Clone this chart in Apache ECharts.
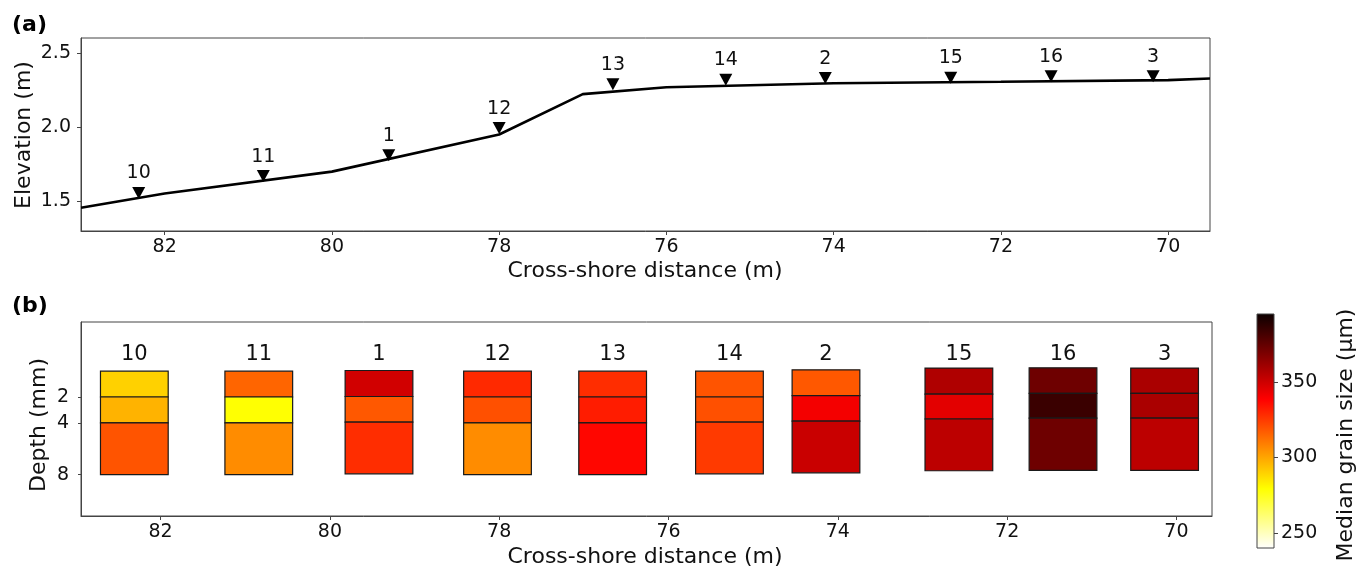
<!DOCTYPE html>
<html><head><meta charset="utf-8">
<script src="https://cdn.jsdelivr.net/npm/echarts@6/dist/echarts.min.js"></script>
<style>html,body{margin:0;padding:0;background:#fff}#c{width:1362px;height:569px}</style>
</head><body><div id="c"></div>
<script>
// ---------- Panel (a): beach elevation profile ----------
const profileX = [83, 82, 80, 78, 77, 76, 74, 72, 70, 69.5];
const profileZ = [1.457, 1.553, 1.70, 1.95, 2.222, 2.268, 2.295, 2.305, 2.316, 2.327];
const sampleNames = ['10', '11', '1', '12', '13', '14', '2', '15', '16', '3'];
const sampleX = [82.31, 80.82, 79.32, 78.00, 76.64, 75.29, 74.10, 72.60, 71.40, 70.18];
const sampleZ = [1.556, 1.670, 1.81, 1.993, 2.289, 2.318, 2.33, 2.333, 2.343, 2.343];
const xTicks = [70, 72, 74, 76, 78, 80, 82];
const elevTicks = [1.5, 2.0, 2.5];

// ---------- Panel (b): sediment cores ----------
const coreX = [82.31, 80.84, 79.42, 78.02, 76.66, 75.28, 74.14, 72.57, 71.34, 70.14];
const layerTop    = [0, 0, -0.05, 0, 0, 0, -0.1, -0.24, -0.26, -0.24];
const layerB1     = [2, 2, 1.96, 2, 2, 2, 1.9, 1.77, 1.72, 1.72];
const layerB2     = [4, 4, 3.94, 4, 4, 3.94, 3.86, 3.7, 3.63, 3.63];
const layerBottom = [8, 8, 7.94, 8, 8, 7.94, 7.86, 7.7, 7.68, 7.68];
const d50Top    = [290, 315, 349, 329, 328, 319, 318, 357, 372, 358];
const d50Mid    = [297, 279, 318, 320, 332, 320, 341, 345, 384, 358];
const d50Bottom = [319, 306, 328, 306, 337, 325, 351, 354, 372, 354];
const depthTicks = [2, 4, 8];
const cbarTicks = [250, 300, 350];
const cbarMin = 240, cbarMax = 395;

const FONT = '"DejaVu Sans", sans-serif';
const TXT = '#111';
const AX = '#444';

// matplotlib 'hot_r' colormap
function hotR(v) {
  let t = (v - cbarMin) / (cbarMax - cbarMin);
  t = Math.max(0, Math.min(1, t));
  const s = 1 - t;
  const k1 = 0.365079, k2 = 0.746032;
  const r = s < k1 ? 0.0416 + (1 - 0.0416) * s / k1 : 1;
  const g = s < k1 ? 0 : (s < k2 ? (s - k1) / (k2 - k1) : 1);
  const b = s < k2 ? 0 : (s - k2) / (1 - k2);
  return 'rgb(' + Math.round(r * 255) + ',' + Math.round(g * 255) + ',' + Math.round(b * 255) + ')';
}

const chart = echarts.init(document.getElementById('c'), null, {renderer: 'canvas'});

function xAxisCfg(grid, min, max) {
  return {
    gridIndex: grid, type: 'value', min: min, max: max, inverse: true,
    axisLine: {show: true, onZero: false, lineStyle: {color: AX, width: 1}},
    axisTick: {show: true, length: 4, customValues: xTicks, lineStyle: {color: AX}},
    axisLabel: {customValues: xTicks, margin: 7, fontSize: 19, fontFamily: FONT, color: TXT},
    splitLine: {show: false}
  };
}

const coreData = coreX.map((x, i) => [x, layerTop[i], layerB1[i], layerB2[i], layerBottom[i], d50Top[i], d50Mid[i], d50Bottom[i]]);
const coreWidth = 0.8;

const option = {
  animation: false,
  backgroundColor: '#fff',
  textStyle: {fontFamily: FONT},
  grid: [
    {left: 81, top: 38, width: 1129, height: 193, show: true, borderColor: AX, borderWidth: 1},
    {left: 81, top: 322, width: 1131, height: 194, show: true, borderColor: AX, borderWidth: 1},
    {left: 1257, top: 314, width: 17, height: 234, show: false}
  ],
  xAxis: [
    xAxisCfg(0, 69.5, 83),
    xAxisCfg(1, 69.58, 82.94),
    {gridIndex: 2, type: 'value', min: 0, max: 1, show: false}
  ],
  yAxis: [
    {
      gridIndex: 0, type: 'value', min: 1.3, max: 2.6,
      axisLine: {show: true, onZero: false, lineStyle: {color: AX}},
      axisTick: {show: true, length: 4, customValues: elevTicks, lineStyle: {color: AX}},
      axisLabel: {customValues: elevTicks, margin: 10, fontSize: 19, fontFamily: FONT, color: TXT,
        formatter: v => Number(v).toFixed(1)},
      splitLine: {show: false}
    },
    {
      gridIndex: 1, type: 'value', min: -3.8, max: 11.2, inverse: true,
      axisLine: {show: true, onZero: false, lineStyle: {color: AX}},
      axisTick: {show: true, length: 3, customValues: depthTicks, lineStyle: {color: AX}},
      axisLabel: {customValues: depthTicks, margin: 12, fontSize: 19, fontFamily: FONT, color: TXT},
      splitLine: {show: false}
    },
    {
      gridIndex: 2, type: 'value', min: cbarMin, max: cbarMax, position: 'right',
      axisLine: {show: false, onZero: false},
      axisTick: {show: true, length: 4, customValues: cbarTicks, lineStyle: {color: AX}},
      axisLabel: {customValues: cbarTicks, margin: 7, fontSize: 19, fontFamily: FONT, color: TXT},
      splitLine: {show: false}
    }
  ],
  series: [
    {
      type: 'line', xAxisIndex: 0, yAxisIndex: 0, silent: true,
      data: profileX.map((x, i) => [x, profileZ[i]]),
      showSymbol: false, symbol: 'none',
      lineStyle: {color: '#000', width: 2.6}, z: 2
    },
    {
      type: 'scatter', xAxisIndex: 0, yAxisIndex: 0, silent: true,
      data: sampleX.map((x, i) => ({name: sampleNames[i], value: [x, sampleZ[i]]})),
      symbol: 'triangle', symbolRotate: 180, symbolSize: [13, 12],
      itemStyle: {color: '#000', opacity: 1},
      label: {show: true, position: 'top', distance: 4, formatter: p => p.name,
        fontSize: 19, fontFamily: FONT, color: TXT},
      z: 3
    },
    {
      type: 'custom', xAxisIndex: 1, yAxisIndex: 1, silent: true,
      data: coreData,
      renderItem: function (params, api) {
        const x = api.value(0);
        const bounds = [api.value(1), api.value(2), api.value(3), api.value(4)];
        const vals = [api.value(5), api.value(6), api.value(7)];
        const w = Math.abs(api.size([coreWidth, 0])[0]);
        const cx = api.coord([x, 0])[0];
        const children = [];
        for (let k = 0; k < 3; k++) {
          const y0 = api.coord([x, bounds[k]])[1];
          const y1 = api.coord([x, bounds[k + 1]])[1];
          children.push({
            type: 'rect',
            shape: {x: cx - w / 2, y: y0, width: w, height: y1 - y0},
            style: {fill: hotR(vals[k]), stroke: '#1a1a1a', lineWidth: 1.2}
          });
        }
        children.push({
          type: 'text',
          style: {
            text: sampleNames[params.dataIndex], x: cx, y: api.coord([x, 0])[1] - 17,
            align: 'center', verticalAlign: 'middle', textAlign: 'center', textVerticalAlign: 'middle',
            font: '21px ' + FONT, fill: TXT
          }
        });
        return {type: 'group', children: children};
      }
    },
    {
      type: 'custom', xAxisIndex: 2, yAxisIndex: 2, silent: true,
      data: [[0]],
      renderItem: function (params, api) {
        const p0 = api.coord([0, cbarMax]);
        const p1 = api.coord([1, cbarMin]);
        return {
          type: 'rect',
          shape: {x: p0[0], y: p0[1], width: p1[0] - p0[0], height: p1[1] - p0[1]},
          style: {
            fill: new echarts.graphic.LinearGradient(0, 1, 0, 0, [
              {offset: 0, color: hotR(cbarMin)},
              {offset: 0.253968, color: 'rgb(255,255,0)'},
              {offset: 0.634921, color: 'rgb(255,0,0)'},
              {offset: 1, color: hotR(cbarMax)}
            ]),
            stroke: AX, lineWidth: 1
          }
        };
      }
    }
  ],
  graphic: [
    {type: 'text', left: 12, top: 14, style: {text: '(a)', font: 'bold 22px ' + FONT, fill: '#000'}},
    {type: 'text', left: 12, top: 295, style: {text: '(b)', font: 'bold 22px ' + FONT, fill: '#000'}},
    {type: 'text', x: 645, y: 271, style: {text: 'Cross-shore distance (m)', font: '22px ' + FONT, fill: TXT, textAlign: 'center', textVerticalAlign: 'middle'}},
    {type: 'text', x: 645, y: 557, style: {text: 'Cross-shore distance (m)', font: '22px ' + FONT, fill: TXT, textAlign: 'center', textVerticalAlign: 'middle'}},
    {type: 'text', x: 24, y: 135, rotation: Math.PI / 2, style: {text: 'Elevation (m)', font: '22px ' + FONT, fill: TXT, textAlign: 'center', textVerticalAlign: 'middle'}},
    {type: 'text', x: 39, y: 425, rotation: Math.PI / 2, style: {text: 'Depth (mm)', font: '22px ' + FONT, fill: TXT, textAlign: 'center', textVerticalAlign: 'middle'}},
    {type: 'text', x: 1346, y: 435, rotation: Math.PI / 2, style: {text: 'Median grain size (µm)', font: '22px ' + FONT, fill: TXT, textAlign: 'center', textVerticalAlign: 'middle'}}
  ]
};
chart.setOption(option);
</script>
</body></html>
